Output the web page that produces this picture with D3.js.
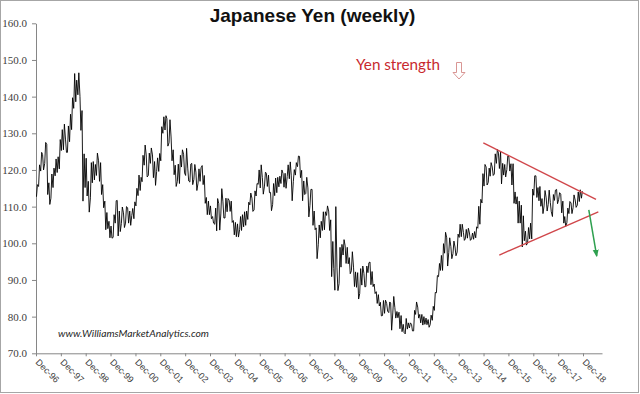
<!DOCTYPE html>
<html>
<head>
<meta charset="utf-8">
<script src="https://cdn.jsdelivr.net/npm/d3@7"></script>
<style>
  html, body { margin: 0; padding: 0; background: #fff; }
  svg { display: block; }
</style>
</head>
<body>
<div id="chart"></div>
<script>
// USD/JPY weekly chart, approximated as monthly high / low swings
const firstMonth = [1996, 11]; // Dec 1996 (JS month index)

// monthly highs, one row per year (Dec-96 first)
const highs = [
  116.0,
  121.4, 124.8, 124.2, 127.5, 127.0, 116.5, 118.9, 120.5, 123.0, 123.6, 128.3, 131.0, // 1997
  132.5, 128.2, 132.0, 135.2, 139.7, 146.3, 144.5, 146.5, 140.0, 136.2, 124.4, 123.2, // 1998
  116.9, 122.0, 122.3, 121.5, 124.6, 122.5, 122.0, 116.0, 111.5, 108.4, 106.0, 104.7, // 1999
  107.8, 111.6, 111.7, 108.8, 109.9, 108.3, 110.0, 109.7, 108.8, 109.5, 111.3, 115.0, // 2000
  118.6, 118.0, 124.0, 126.8, 124.1, 124.6, 126.0, 124.1, 122.3, 123.3, 124.5, 131.8, // 2001
  134.5, 134.8, 134.0, 133.7, 129.0, 125.5, 121.3, 121.6, 124.0, 125.5, 124.3, 125.9, // 2002
  120.5, 121.6, 121.8, 121.5, 119.4, 120.3, 120.6, 121.2, 118.5, 112.5, 111.5, 110.2, // 2003
  107.3, 109.6, 112.2, 110.8, 114.9, 111.3, 112.3, 112.2, 111.7, 111.5, 106.2, 105.7, // 2004
  105.3, 107.3, 107.8, 108.6, 108.8, 111.2, 113.7, 112.3, 114.3, 116.3, 120.0, 121.4, // 2005
  117.9, 119.4, 119.1, 118.6, 113.9, 116.3, 117.8, 118.0, 118.3, 120.0, 119.0, 119.1, // 2006
  121.4, 122.2, 118.6, 120.1, 122.0, 123.8, 123.7, 119.9, 117.0, 118.0, 115.1, 114.7, // 2007
  114.7, 108.8, 104.2, 105.0, 106.0, 108.6, 108.6, 110.2, 108.8, 106.4, 100.5, 110.0, // 2008
  93.3, 98.9, 99.7, 101.0, 99.3, 98.9, 96.1, 97.7, 93.5, 92.2, 92.0, 93.1,             // 2009
  93.8, 91.8, 93.8, 94.7, 94.9, 92.3, 88.9, 86.8, 86.0, 83.9, 84.4, 84.5,             // 2010
  83.6, 84.0, 83.7, 85.5, 82.5, 81.4, 81.2, 80.3, 77.9, 79.5, 78.3, 78.3,             // 2011
  77.9, 81.7, 84.0, 82.6, 80.6, 80.6, 80.0, 79.6, 79.2, 80.4, 82.8, 86.6,             // 2012
  91.2, 94.5, 96.7, 99.9, 103.0, 101.5, 101.5, 99.1, 100.6, 99.0, 102.5, 105.2,       // 2013
  105.2, 103.0, 103.8, 104.1, 102.8, 102.8, 103.2, 104.5, 110.1, 112.0, 119.0, 121.5, // 2014
  120.8, 120.5, 122.0, 120.8, 124.4, 125.6, 124.6, 125.0, 121.8, 121.5, 123.8, 123.6, // 2015
  121.7, 121.7, 114.0, 112.7, 111.5, 110.4, 107.5, 103.3, 104.3, 105.5, 114.8, 118.4, // 2016
  118.4, 115.2, 115.5, 112.2, 114.4, 112.4, 114.5, 111.1, 113.3, 114.5, 114.7, 113.8, // 2017
  113.4, 111.5, 107.3, 109.6, 111.4, 111.0, 113.2, 111.8, 114.0, 114.6, 114.2         // 2018
];

// monthly lows, same layout
const lows = [
  112.7,
  115.5, 119.7, 120.0, 121.8, 113.3, 110.6, 112.3, 115.2, 118.4, 119.3, 120.3, 125.3, // 1997
  125.5, 124.8, 124.8, 127.7, 131.0, 136.8, 138.6, 140.5, 130.8, 111.5, 115.2, 112.9, // 1998
  108.5, 112.4, 116.5, 117.3, 118.5, 116.9, 113.3, 109.7, 103.7, 104.0, 101.5, 101.4, // 1999
  101.6, 105.5, 102.0, 103.2, 105.4, 104.3, 105.5, 105.5, 104.9, 107.6, 106.7, 110.2, // 2000
  113.0, 114.4, 116.8, 121.3, 118.1, 118.5, 121.8, 117.9, 115.8, 119.6, 119.6, 122.5, // 2001
  130.0, 130.9, 126.5, 127.4, 122.5, 118.7, 115.5, 116.9, 116.3, 120.8, 119.2, 118.5, // 2002
  117.0, 116.7, 116.0, 117.4, 114.4, 116.4, 116.9, 116.0, 110.9, 107.8, 107.8, 106.7, // 2003
  105.5, 105.2, 103.4, 103.6, 108.0, 106.9, 106.9, 108.6, 108.7, 105.7, 102.3, 101.8, // 2004
  101.7, 103.7, 103.5, 104.5, 104.9, 106.5, 110.5, 108.7, 109.1, 112.9, 116.1, 115.1, // 2005
  113.4, 115.6, 115.5, 113.8, 108.9, 110.6, 113.0, 113.8, 115.4, 116.3, 115.3, 115.0, // 2006
  118.2, 117.6, 111.6, 116.9, 118.6, 120.9, 117.9, 111.6, 113.3, 113.6, 107.2, 110.3, // 2007
  104.9, 103.7, 95.8, 99.6, 101.5, 103.5, 103.7, 107.6, 103.5, 90.9, 93.1, 87.2,      // 2008
  87.1, 89.0, 93.5, 96.8, 94.5, 94.4, 91.7, 92.5, 88.2, 88.0, 84.8, 86.3,             // 2009
  88.6, 88.1, 88.2, 92.0, 88.7, 88.2, 86.3, 83.6, 82.9, 80.2, 80.3, 80.9,             // 2010
  81.5, 81.1, 76.3, 81.0, 79.6, 79.7, 76.7, 75.9, 75.6, 75.3, 76.6, 76.9,             // 2011
  76.1, 76.1, 80.6, 79.6, 78.3, 77.7, 77.9, 77.8, 77.1, 77.8, 79.0, 81.7,             // 2012
  86.5, 90.9, 92.6, 92.6, 97.3, 93.8, 97.5, 95.8, 97.2, 96.6, 97.6, 101.6,            // 2013
  101.8, 100.8, 101.2, 101.4, 100.8, 101.2, 101.1, 101.5, 104.1, 105.2, 111.0, 115.6, // 2014
  115.9, 116.6, 118.3, 118.5, 118.9, 121.8, 120.4, 116.2, 118.6, 118.1, 120.1, 119.7, // 2015
  115.9, 110.9, 110.7, 105.5, 105.5, 99.0, 100.7, 99.5, 100.1, 101.2, 101.2, 113.1,   // 2016
  112.5, 111.6, 110.1, 108.1, 110.2, 108.8, 110.6, 108.6, 107.3, 111.7, 110.8, 111.9, // 2017
  108.3, 105.5, 104.6, 105.6, 108.1, 108.1, 109.7, 109.8, 110.4, 111.4, 112.3         // 2018
];

const tickLabels = [
  'Dec-96', 'Dec-97', 'Dec-98', 'Dec-99', 'Dec-00', 'Dec-01', 'Dec-02', 'Dec-03',
  'Dec-04', 'Dec-05', 'Dec-06', 'Dec-07', 'Dec-08', 'Dec-09', 'Dec-10', 'Dec-11',
  'Dec-12', 'Dec-13', 'Dec-14', 'Dec-15', 'Dec-16', 'Dec-17', 'Dec-18'
];
const yTicks = [70, 80, 90, 100, 110, 120, 130, 140, 150, 160];

// hand-drawn triangle and breakout arrow (date, level)
const upperTrend = [['2014-11-28', 127.4], ['2019-06-10', 112.0]];
const lowerTrend = [['2015-07-20', 96.8], ['2019-07-14', 108.6]];
const breakArrow = [['2019-02-24', 109.1], ['2019-06-20', 96.6]];

const width = 640;
const height = 394;

const svg = d3.select('#chart').append('svg')
  .attr('width', width)
  .attr('height', height);

svg.append('rect')
  .attr('x', 0.5).attr('y', 0.5)
  .attr('width', width - 2).attr('height', height - 2)
  .attr('fill', '#fff')
  .attr('stroke', '#a6a6a6');

const parse = d3.utcParse('%Y-%m-%d');
const x = d3.scaleUtc()
  .domain([Date.UTC(1996, 11, 1), Date.UTC(2019, 8, 6)])
  .range([36, 602]);
const y = d3.scaleLinear().domain([70, 160]).range([353.3, 23.3]);

// --- axes ---
const tickDates = tickLabels.map((d, i) => new Date(Date.UTC(1996 + i, 11, 1)));

const xAxis = svg.append('g')
  .attr('transform', `translate(0,${y(70)})`)
  .call(d3.axisBottom(x).tickValues(tickDates).tickSize(3).tickSizeOuter(0)
    .tickFormat((d, i) => tickLabels[i]));
xAxis.select('.domain').attr('stroke', '#868686');
xAxis.selectAll('.tick line').attr('stroke', '#868686');
xAxis.selectAll('.tick text')
  .attr('text-anchor', 'start')
  .attr('transform', 'translate(-1.5,9.5) rotate(45)')
  .attr('x', 0).attr('y', 0).attr('dy', 0)
  .attr('fill', '#404040')
  .style('font', '9px "Liberation Sans", Arial, sans-serif');

const yAxis = svg.append('g')
  .attr('transform', `translate(${x.range()[0]},0)`)
  .call(d3.axisLeft(y).tickValues(yTicks).tickSize(4).tickSizeOuter(0).tickPadding(5)
    .tickFormat(d3.format('.1f')));
yAxis.select('.domain').attr('stroke', '#868686');
yAxis.selectAll('.tick line').attr('stroke', '#868686');
yAxis.selectAll('.tick text')
  .attr('fill', '#404040')
  .style('font', '11px "Liberation Serif", "Times New Roman", serif');

// --- price swings ---
const swings = [];
highs.forEach((h, i) => {
  const l = lows[i];
  const mid = (h + l) / 2;
  const prevMid = i > 0 ? (highs[i - 1] + lows[i - 1]) / 2 : mid;
  const rising = mid >= prevMid;
  const yr = firstMonth[0], mo = firstMonth[1] + i;
  swings.push({ date: new Date(Date.UTC(yr, mo, 8)), v: rising ? l : h });
  swings.push({ date: new Date(Date.UTC(yr, mo, 22)), v: rising ? h : l });
});

svg.append('path')
  .datum(swings)
  .attr('fill', 'none')
  .attr('stroke', '#000')
  .attr('stroke-width', 0.9)
  .attr('stroke-linejoin', 'round')
  .attr('d', d3.line().x(d => x(d.date)).y(d => y(d.v)));

// --- annotations ---
const trendLine = d3.line().x(d => x(parse(d[0]))).y(d => y(d[1]));

svg.append('path')
  .datum(upperTrend)
  .attr('d', trendLine)
  .attr('stroke', '#d0464a').attr('stroke-width', 1.4).attr('fill', 'none');
svg.append('path')
  .datum(lowerTrend)
  .attr('d', trendLine)
  .attr('stroke', '#d0464a').attr('stroke-width', 1.4).attr('fill', 'none');

svg.append('defs').append('marker')
  .attr('id', 'greenhead')
  .attr('viewBox', '0 -5 10 10')
  .attr('refX', 8).attr('refY', 0)
  .attr('markerWidth', 5).attr('markerHeight', 5)
  .attr('orient', 'auto')
  .append('path')
  .attr('d', 'M0,-4L10,0L0,4Z')
  .attr('fill', '#2ea04f');

svg.append('path')
  .datum(breakArrow)
  .attr('d', trendLine)
  .attr('stroke', '#2ea04f').attr('stroke-width', 1.5).attr('fill', 'none')
  .attr('marker-end', 'url(#greenhead)');

// title
svg.append('text')
  .attr('x', 312.5).attr('y', 22)
  .attr('text-anchor', 'middle')
  .attr('fill', '#111')
  .style('font', 'bold 19px "Liberation Sans", Arial, sans-serif')
  .text('Japanese Yen (weekly)');

// "Yen strength" note with hollow arrow
svg.append('text')
  .attr('x', 356).attr('y', 70)
  .attr('textLength', 84).attr('lengthAdjust', 'spacingAndGlyphs')
  .attr('fill', '#c8282e')
  .style('font', '14.5px Lato, "Open Sans", sans-serif')
  .text('Yen strength');

svg.append('path')
  .attr('d', 'M456.5,62.5 H461.5 V72.5 H465 L459,79 L453,72.5 H456.5 Z')
  .attr('fill', 'none')
  .attr('stroke', '#d99694')
  .attr('stroke-width', 1);

// watermark
svg.append('text')
  .attr('x', 58).attr('y', 337)
  .attr('textLength', 151).attr('lengthAdjust', 'spacingAndGlyphs')
  .attr('fill', '#262626')
  .style('font', 'italic 10px Lato, "Open Sans", sans-serif')
  .text('www.WilliamsMarketAnalytics.com');
</script>
</body>
</html>
